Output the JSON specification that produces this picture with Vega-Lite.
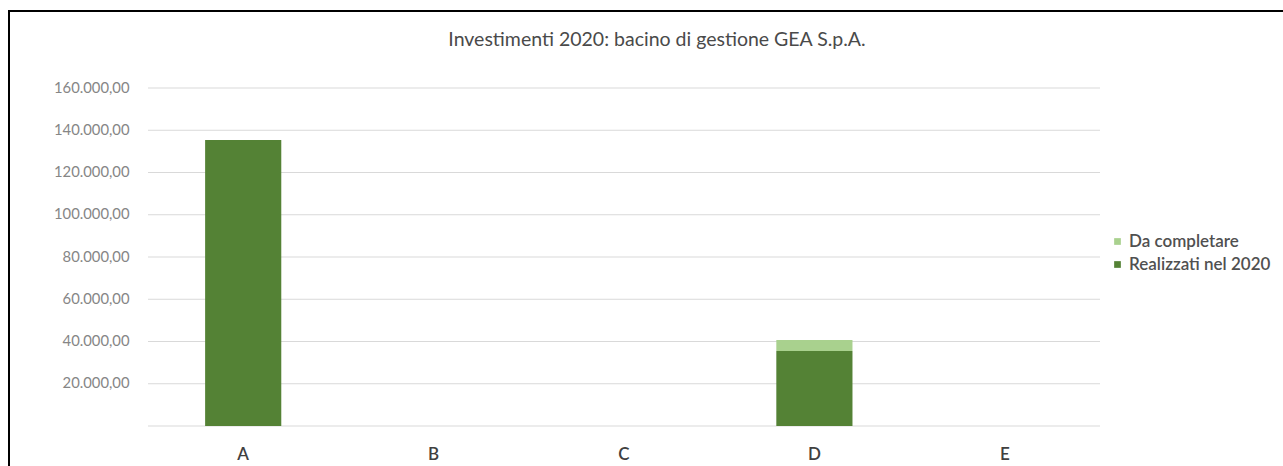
{
  "$schema": "https://vega.github.io/schema/vega-lite/v6.json",
  "width": 1274,
  "height": 455,
  "autosize": {"type": "none"},
  "padding": {"left": 9, "top": 11, "right": 0, "bottom": 0},
  "background": "white",
  "config": {
    "view": {"stroke": "#000000", "strokeWidth": 2, "strokeDash": [1274, 1729, 455]},
    "font": "Lato",
    "locale": {"number": {"decimal": ",", "thousands": ".", "grouping": [3], "currency": ["", " €"]}}
  },
  "title": {
    "text": "Investimenti 2020: bacino di gestione GEA S.p.A.",
    "anchor": "middle",
    "frame": "group",
    "font": "Lato",
    "fontSize": 19.5,
    "fontWeight": "normal",
    "color": "#4a4a4a",
    "baseline": "alphabetic",
    "offset": 0,
    "dy": 54,
    "dx": 11
  },
  "datasets": {
    "bars": [
      {"categoria": "A", "serie": "Realizzati nel 2020", "valore": 135400},
      {"categoria": "A", "serie": "Da completare", "valore": 0},
      {"categoria": "B", "serie": "Realizzati nel 2020", "valore": 0},
      {"categoria": "B", "serie": "Da completare", "valore": 0},
      {"categoria": "C", "serie": "Realizzati nel 2020", "valore": 0},
      {"categoria": "C", "serie": "Da completare", "valore": 0},
      {"categoria": "D", "serie": "Realizzati nel 2020", "valore": 35500},
      {"categoria": "D", "serie": "Da completare", "valore": 5200},
      {"categoria": "E", "serie": "Realizzati nel 2020", "valore": 0},
      {"categoria": "E", "serie": "Da completare", "valore": 0}
    ],
    "grid": [
      {"v": 0}, {"v": 20000}, {"v": 40000}, {"v": 60000}, {"v": 80000},
      {"v": 100000}, {"v": 120000}, {"v": 140000}, {"v": 160000}
    ]
  },
  "layer": [
    {
      "data": {"name": "grid"},
      "mark": {"type": "rule", "color": "#d9d9d9", "strokeWidth": 1},
      "encoding": {
        "y": {
          "field": "v",
          "type": "quantitative",
          "scale": {"domain": [0, 160000], "range": [415, 77]},
          "axis": {
            "values": [0, 20000, 40000, 60000, 80000, 100000, 120000, 140000, 160000],
            "format": ",.2f",
            "labelExpr": "datum.value === 0 ? '' : datum.label",
            "domain": false,
            "ticks": false,
            "grid": false,
            "offset": -124,
            "labelPadding": 4,
            "labelFont": "Lato",
            "labelFontSize": 14.8,
            "labelColor": "#868686",
            "title": null
          }
        },
        "x": {"datum": 0, "type": "quantitative", "scale": {"domain": [0, 1], "range": [139, 1091]}, "axis": null},
        "x2": {"datum": 1}
      }
    },
    {
      "data": {"name": "bars"},
      "mark": {"type": "bar"},
      "encoding": {
        "x": {
          "field": "categoria",
          "type": "nominal",
          "scale": {"range": [139, 1091], "paddingInner": 0.6, "paddingOuter": 0.3},
          "axis": {
            "orient": "bottom",
            "offset": -24,
            "domain": false,
            "ticks": false,
            "grid": false,
            "labelAngle": 0,
            "labelPadding": 4,
            "labelFont": "Lato",
            "labelFontSize": 17,
            "labelFontWeight": 600,
            "labelColor": "#404040",
            "title": null
          }
        },
        "y": {
          "field": "valore",
          "type": "quantitative",
          "stack": "zero",
          "scale": {"domain": [0, 160000], "range": [415, 77]}
        },
        "color": {
          "field": "serie",
          "type": "nominal",
          "scale": {"domain": ["Da completare", "Realizzati nel 2020"], "range": ["#a9d18e", "#548235"]},
          "legend": {
            "orient": "none",
            "legendX": 1100,
            "legendY": 222,
            "title": null,
            "labelFont": "Lato",
            "labelFontSize": 17,
            "labelFontWeight": 600,
            "labelColor": "#505050",
            "symbolType": "square",
            "symbolSize": 45,
            "rowPadding": 5,
            "labelOffset": 3
          }
        },
        "order": {"field": "serie", "sort": "descending"}
      }
    }
  ],
  "resolve": {"scale": {"x": "independent"}, "axis": {"x": "independent"}}
}
